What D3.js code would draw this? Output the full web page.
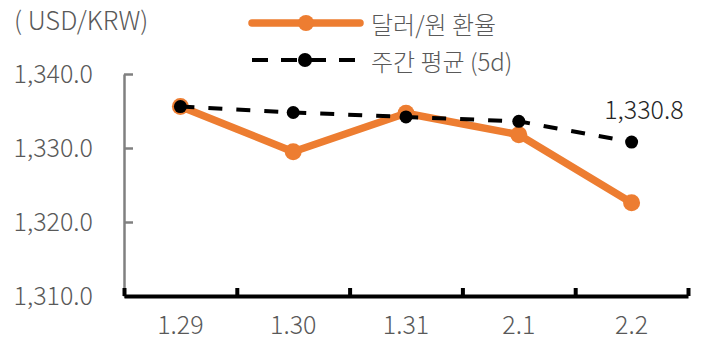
<!DOCTYPE html>
<html>
<head>
<meta charset="utf-8">
<script src="https://cdn.jsdelivr.net/npm/d3@7"></script>
<style>
  html, body { margin: 0; padding: 0; background: #fff; }
  svg { display: block; }
  text { font-family: "Noto Sans CJK KR", "Noto Sans", sans-serif; }
</style>
</head>
<body>
<svg id="chart" width="721" height="354"></svg>
<script>
const categories = ["1.29", "1.30", "1.31", "2.1", "2.2"];
const fxRate = [1335.6, 1329.5, 1334.7, 1331.8, 1322.6];
const weeklyAvg = [1335.6, 1334.8, 1334.2, 1333.6, 1330.8];
const yTicks = [1310, 1320, 1330, 1340];
const seriesNames = ["달러/원 환율", "주간 평균 (5d)"];
const unitLabel = "( USD/KRW)";
const lastLabel = "1,330.8";

const svg = d3.select("#chart");
const pLeft = 124, pRight = 688, pTop = 74, pBottom = 296;

const x = d3.scaleBand().domain(categories).range([pLeft, pRight]).padding(0);
const y = d3.scaleLinear().domain([1310, 1340]).range([pBottom, pTop]);
const fmt = d3.format(",.1f");
const textColor = "#595959";
const orange = "#ED7D31";
const ff = '"Noto Sans CJK KR", "Noto Sans", sans-serif';
const fsNum = "25px";
const fsLeg = "24px";

// Y axis
const yAxis = svg.append("g").attr("transform", `translate(${pLeft},0)`)
  .call(d3.axisLeft(y).tickValues(yTicks).tickFormat(fmt).tickSize(-9).tickSizeOuter(0).tickPadding(31));
yAxis.select(".domain").attr("stroke", "#808080").attr("stroke-width", 2.5);
yAxis.selectAll(".tick line").attr("stroke", "#808080").attr("stroke-width", 2.5);
yAxis.selectAll(".tick text").attr("fill", textColor).style("font-size", fsNum)
  .style("font-family", ff).attr("font-weight", 300);

// X axis boundary ticks
const xb = d3.scaleLinear().domain([0, categories.length]).range([pLeft, pRight]);
const xAxisTicks = svg.append("g").attr("transform", `translate(0,${pBottom})`)
  .call(d3.axisBottom(xb).tickValues(d3.range(categories.length + 1)).tickFormat("").tickSize(-8).tickSizeOuter(0));
xAxisTicks.select(".domain").attr("stroke", "#000").attr("stroke-width", 4);
xAxisTicks.selectAll(".tick line").attr("stroke", "#000").attr("stroke-width", 4);

// X labels
const xAxis = svg.append("g").attr("transform", `translate(0,${pBottom})`)
  .call(d3.axisBottom(x).tickSize(0).tickPadding(20));
xAxis.select(".domain").remove();
xAxis.selectAll(".tick text").attr("fill", textColor).style("font-size", fsNum)
  .style("font-family", ff).attr("font-weight", 300);

const cx = d => x(d) + x.bandwidth() / 2;

// Orange line
const line = d3.line().x((d, i) => cx(categories[i])).y(d => y(d));
svg.append("path").datum(fxRate).attr("d", line)
  .attr("fill", "none").attr("stroke", orange).attr("stroke-width", 7.5).attr("stroke-linejoin", "round");
svg.selectAll(".fxDot").data(fxRate).enter().append("circle")
  .attr("cx", (d, i) => cx(categories[i])).attr("cy", d => y(d)).attr("r", 8.5).attr("fill", orange);

// Black dashed line
svg.append("path").datum(weeklyAvg).attr("d", line)
  .attr("fill", "none").attr("stroke", "#000").attr("stroke-width", 4).attr("stroke-dasharray", "14,14");
svg.selectAll(".avgDot").data(weeklyAvg).enter().append("circle")
  .attr("cx", (d, i) => cx(categories[i])).attr("cy", d => y(d)).attr("r", 6.5).attr("fill", "#000");

// Last label
svg.append("text").attr("x", cx(categories[4]) + 52).attr("y", y(weeklyAvg[4]) - 34)
  .attr("text-anchor", "end").attr("dominant-baseline", "central")
  .attr("fill", "#262626").style("font-size", fsNum).attr("font-weight", 300).text(lastLabel);

// Unit label
svg.append("text").attr("x", 14).attr("y", 18).attr("dominant-baseline", "central")
  .attr("fill", textColor).style("font-size", "25.5px").attr("font-weight", 300).text(unitLabel);

// Legend
const lg = svg.append("g");
lg.append("line").attr("x1", 252).attr("x2", 360).attr("y1", 23).attr("y2", 23)
  .attr("stroke", orange).attr("stroke-width", 7.5).attr("stroke-linecap", "round");
lg.append("circle").attr("cx", 306).attr("cy", 23).attr("r", 8).attr("fill", orange);
lg.append("text").attr("x", 371).attr("y", 23).attr("dominant-baseline", "central")
  .attr("fill", textColor).style("font-size", fsLeg).attr("font-weight", 300).text(seriesNames[0]);

lg.append("line").attr("x1", 252).attr("x2", 358).attr("y1", 60).attr("y2", 60)
  .attr("stroke", "#000").attr("stroke-width", 4).attr("stroke-dasharray", "16,13");
lg.append("circle").attr("cx", 305).attr("cy", 60).attr("r", 7).attr("fill", "#000");
lg.append("text").attr("x", 371).attr("y", 60).attr("dominant-baseline", "central")
  .attr("fill", textColor).style("font-size", fsLeg).attr("font-weight", 300).text(seriesNames[1]);
</script>
</body>
</html>
